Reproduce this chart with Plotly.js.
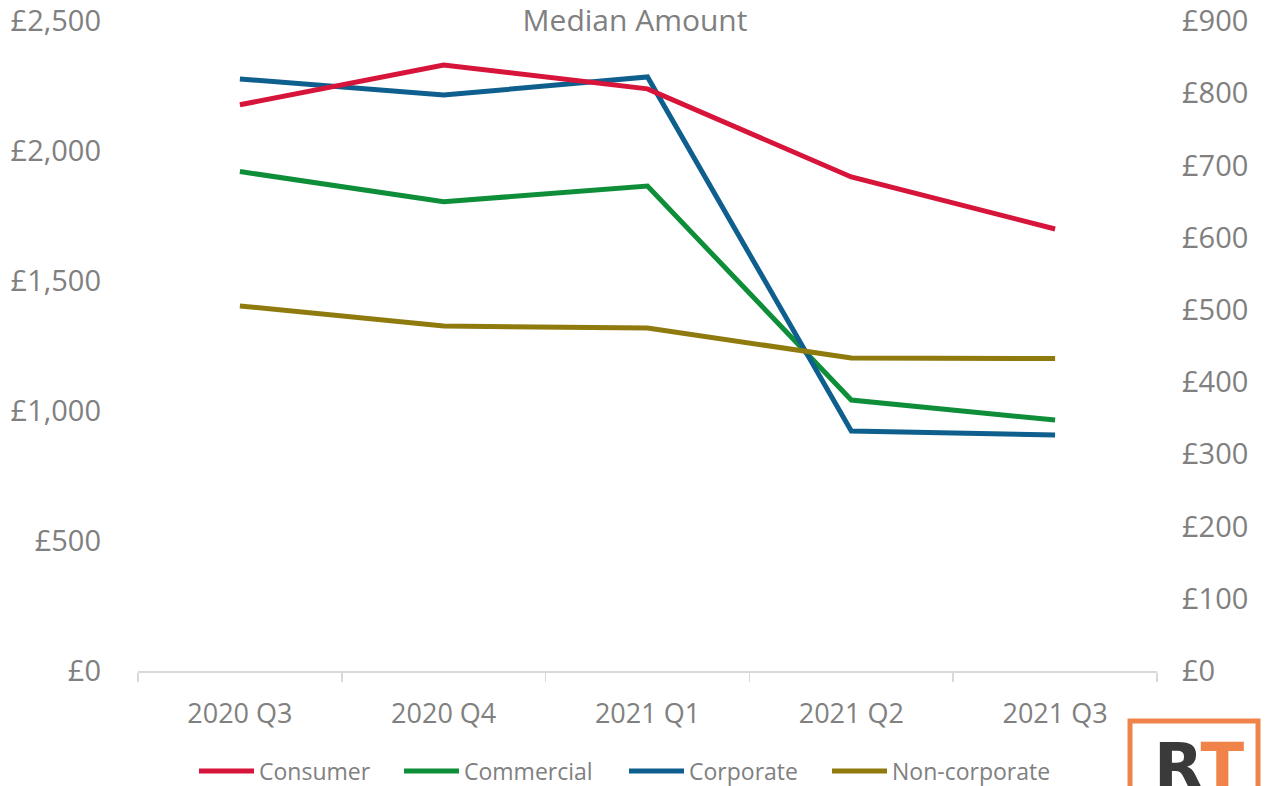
<!DOCTYPE html>
<html>
<head>
<meta charset="utf-8">
<script src="https://cdn.plot.ly/plotly-3.0.1.min.js"></script>
<style>html,body{margin:0;padding:0;background:#fff;}#chart{width:1270px;height:786px;}</style>
</head>
<body>
<div id="chart"></div>
<script>
const categories = ["2020 Q3", "2020 Q4", "2021 Q1", "2021 Q2", "2021 Q3"];
const consumer = [784, 839, 806, 684, 612];        // right axis
const commercial = [1921, 1805, 1865, 1042, 965];  // left axis
const corporate = [2277, 2215, 2285, 923, 908];    // left axis
const nonCorporate = [1404, 1327, 1319, 1204, 1202]; // left axis

const FONT = "Open Sans";
const GREY = "#808080";
const LEGEND_Y = 1 - 771/786;

function legendAt(px) {
  return {orientation: "h", xref: "container", yref: "container", x: px/1270, xanchor: "left",
          y: LEGEND_Y, yanchor: "middle", font: {family: FONT, size: 23, color: GREY},
          itemwidth: 55, bgcolor: "rgba(0,0,0,0)", borderwidth: 0};
}

const traces = [
  {name: "Consumer", x: categories, y: consumer, yaxis: "y2", type: "scatter", mode: "lines",
   line: {color: "#d7143a", width: 5}, legend: "legend"},
  {name: "Commercial", x: categories, y: commercial, type: "scatter", mode: "lines",
   line: {color: "#0f8e3a", width: 5}, legend: "legend2"},
  {name: "Corporate", x: categories, y: corporate, type: "scatter", mode: "lines",
   line: {color: "#0e5f8d", width: 5}, legend: "legend3"},
  {name: "Non-corporate", x: categories, y: nonCorporate, type: "scatter", mode: "lines",
   line: {color: "#8f7a0e", width: 5}, legend: "legend4"}
];

const layout = {
  width: 1270, height: 786,
  paper_bgcolor: "#fff", plot_bgcolor: "#fff",
  margin: {l: 138, r: 113, t: 21, b: 115},
  font: {family: FONT, color: GREY, size: 26},
  title: {text: "Median Amount", font: {family: FONT, size: 30, color: GREY},
          x: 0.5, xanchor: "center", y: 1 - 20/786, yanchor: "middle", yref: "container"},
  showlegend: true,
  legend: legendAt(200 - 6),
  legend2: legendAt(405 - 6),
  legend3: legendAt(630 - 6),
  legend4: legendAt(833 - 6),
  xaxis: {type: "category", range: [-0.5, 4.5], tickson: "boundaries", ticks: "outside",
          ticklen: 9, tickwidth: 1.5, tickcolor: "#d9d9d9", showline: true, linecolor: "#d9d9d9",
          linewidth: 1.5, showgrid: false, zeroline: false, fixedrange: true,
          tickfont: {family: FONT, size: 27, color: GREY}, ticklabelstandoff: 18},
  yaxis: {range: [0, 2500], dtick: 500, tick0: 0, tickprefix: "£", tickformat: ",d",
          showgrid: false, zeroline: false, showline: false, ticks: "",
          tickfont: {family: FONT, size: 29, color: GREY}, ticklabelstandoff: 36},
  yaxis2: {range: [0, 900], dtick: 100, tick0: 0, tickprefix: "£", tickformat: ",d",
           overlaying: "y", side: "right", showgrid: false, zeroline: false, showline: false,
           ticks: "", tickfont: {family: FONT, size: 29, color: GREY}, ticklabelstandoff: 24},
  shapes: [
    {type: "rect", xref: "paper", yref: "paper", layer: "above",
     x0: (1130 - 138)/1019, x1: (1258 - 138)/1019, y0: -(790 - 671)/650, y1: -(721 - 671)/650,
     line: {color: "#f0834a", width: 5}, fillcolor: "rgba(0,0,0,0)"}
  ],
  annotations: [
    {text: "<b><span style='color:#3a3a3a'>R</span><span style='color:#f0834a'>T</span></b>",
     xref: "paper", yref: "paper", x: (1199 - 138)/1019, y: -(767 - 671)/650,
     xanchor: "center", yanchor: "middle", showarrow: false,
     font: {family: "DejaVu Sans", size: 64, color: "#3a3a3a"}}
  ]
};

Plotly.newPlot("chart", traces, layout, {displayModeBar: false, staticPlot: true});
</script>
</body>
</html>
